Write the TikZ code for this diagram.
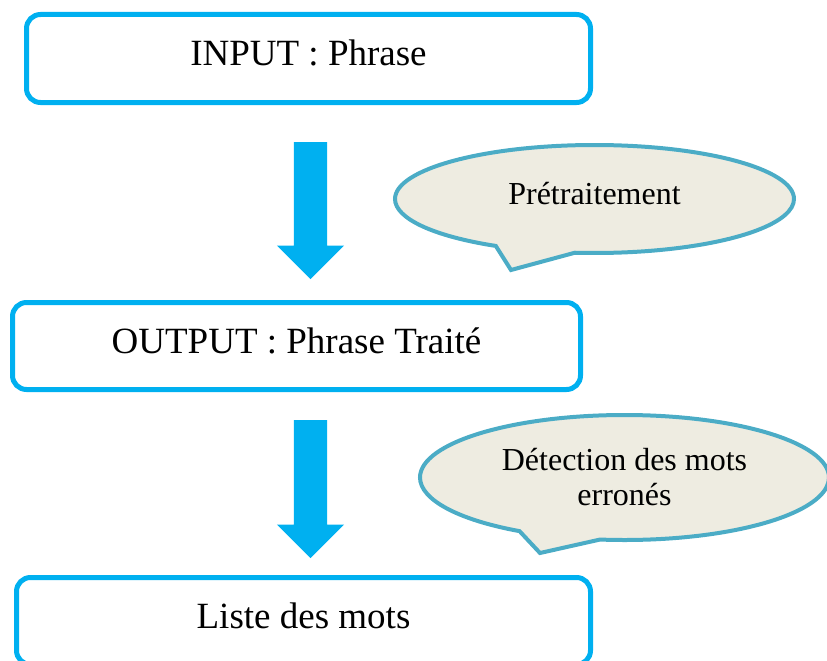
\documentclass[tikz,border=0pt]{standalone}
\usepackage{fontspec}
\setmainfont{Liberation Serif}
\usepackage{tikz}
\usetikzlibrary{shapes.arrows,shapes.callouts}
\definecolor{boxblue}{HTML}{00B0F0}
\definecolor{bubbleline}{HTML}{4BACC6}
\definecolor{bubblefill}{HTML}{EEECE1}
\tikzset{
	etape/.style={shape=rectangle, rounded corners=14pt, draw=boxblue, line width=5pt, fill=white,
		inner sep=0pt, text height=25pt, text depth=10pt, font=\fontsize{37}{44}\selectfont},
	fleche/.style={shape=single arrow, fill=boxblue, draw=none, inner sep=16.5pt, minimum width=67pt,
		minimum height=137pt, single arrow head extend=17pt, single arrow tip angle=90,
		single arrow head indent=0pt, shape border rotate=270, anchor=tail},
	bulle/.style={shape=ellipse callout, draw=bubbleline, line width=4pt, fill=bubblefill,
		inner sep=0pt, callout pointer arc=24, align=center, font=\fontsize{32}{35}\selectfont}
}
\begin{document}
\begin{tikzpicture}[x=1pt,y=-1pt]
	\useasboundingbox (0,0) rectangle (827,661);
	% les etapes
	\node (entree) at (308.5,58.5) [etape, minimum width=564pt, minimum height=88pt] {INPUT : Phrase};
	\node (sortie) at (296.5,346) [etape, minimum width=568pt, minimum height=87pt] {OUTPUT : Phrase Traité};
	\node (liste) at (303.5,621) [etape, minimum width=574pt, minimum height=87pt] {Liste des mots};
	% les fleches
	\node (f1) at (310.5,142) [fleche] {};
	\node (f2) at (310.5,420) [fleche, minimum height=138pt] {};
	% les bulles
	\node (pretrait) at (594.5,199) [bulle, minimum width=399pt, minimum height=108pt,
		callout absolute pointer={(511,270)}, text depth=12pt] {Prétraitement};
	\node (detect) at (624.5,477.5) [bulle, minimum width=409pt, minimum height=125pt,
		callout absolute pointer={(540,553)}] {Détection des mots\\erronés};
\end{tikzpicture}
\end{document}
